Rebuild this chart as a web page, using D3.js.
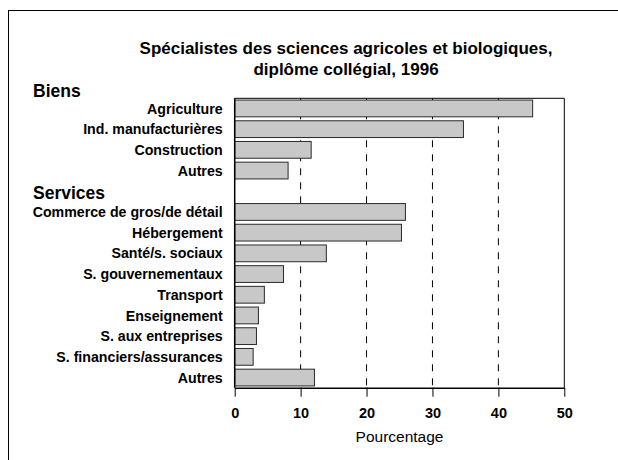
<!DOCTYPE html>
<html>
<head>
<meta charset="utf-8">
<script src="https://cdn.jsdelivr.net/npm/d3@7"></script>
<style>
  html, body { margin: 0; padding: 0; background: #fff; }
  svg { display: block; font-family: "Liberation Sans", Arial, Helvetica, sans-serif; }
</style>
</head>
<body>
<svg id="chart" width="618" height="460"></svg>
<script>
// ---- Data ----
const titleLines = ["Spécialistes des sciences agricoles et biologiques,", "diplôme collégial, 1996"];
const groupNames = ["Biens", "Services"];
const biensCategories = ["Agriculture", "Ind. manufacturières", "Construction", "Autres"];
const biensValues = [45.2, 34.7, 11.6, 8.1];
const servicesCategories = ["Commerce de gros/de détail", "Hébergement", "Santé/s. sociaux",
  "S. gouvernementaux", "Transport", "Enseignement", "S. aux entreprises",
  "S. financiers/assurances", "Autres"];
const servicesValues = [25.9, 25.3, 13.9, 7.4, 4.5, 3.6, 3.3, 2.8, 12.1];
const xTicks = [0, 10, 20, 30, 40, 50];
const xLabel = "Pourcentage";

// Build rows (with a blank slot for the "Services" heading)
const rows = [];
biensCategories.forEach((c, i) => rows.push({ key: "b" + i, label: c, value: biensValues[i] }));
rows.push({ key: "gap", label: "", value: null });
servicesCategories.forEach((c, i) => rows.push({ key: "s" + i, label: c, value: servicesValues[i] }));

const svg = d3.select("#chart");

// Outer frame (top and left visible)
svg.append("rect")
  .attr("x", 8.5).attr("y", 10.5)
  .attr("width", 700).attr("height", 600)
  .attr("fill", "none").attr("stroke", "#000").attr("stroke-width", 1);

const pL = 234.7, pR = 564.3, pT = 98.3, pB = 387.7;

const x = d3.scaleLinear().domain([0, 50]).range([pL, pR]);
const y = d3.scaleBand().domain(rows.map(d => d.key)).range([pT, pB])
  .paddingInner(0.19).paddingOuter(0.085);

// Title
svg.append("text")
  .attr("text-anchor", "middle")
  .attr("font-weight", "bold").attr("font-size", 17)
  .selectAll("tspan").data(titleLines).join("tspan")
  .attr("x", 346).attr("y", (d, i) => 54 + i * 21)
  .text(d => d);

// Gridlines (dashed) at interior ticks
svg.append("g").selectAll("line")
  .data(xTicks.filter(t => t > 0 && t < 50)).join("line")
  .attr("x1", d => x(d)).attr("x2", d => x(d))
  .attr("y1", pT).attr("y2", pB)
  .attr("stroke", "#000").attr("stroke-width", 1)
  .attr("stroke-dasharray", "7,7");

// Plot frame top & right
svg.append("line").attr("x1", pL).attr("x2", pR).attr("y1", pT).attr("y2", pT)
  .attr("stroke", "#000").attr("stroke-width", 1);
svg.append("line").attr("x1", pR).attr("x2", pR).attr("y1", pT).attr("y2", pB)
  .attr("stroke", "#000").attr("stroke-width", 1);

// Bars
svg.append("g").selectAll("rect")
  .data(rows.filter(d => d.value !== null)).join("rect")
  .attr("x", x(0))
  .attr("y", d => y(d.key))
  .attr("width", d => x(d.value) - x(0))
  .attr("height", y.bandwidth())
  .attr("fill", "#c8c8c8")
  .attr("stroke", "#2a2a2a").attr("stroke-width", 1);

// Left axis line
svg.append("line").attr("x1", pL).attr("x2", pL).attr("y1", pT).attr("y2", pB)
  .attr("stroke", "#000").attr("stroke-width", 1.5);

// Bottom axis
const xAxis = svg.append("g")
  .attr("transform", `translate(0,${pB})`)
  .call(d3.axisBottom(x).tickValues(xTicks).tickSize(9).tickSizeOuter(0).tickPadding(11));
xAxis.select(".domain").attr("stroke", "#000").attr("stroke-width", 1.5);
xAxis.selectAll(".tick line").attr("stroke", "#000").attr("stroke-width", 1);
xAxis.selectAll(".tick text")
  .attr("font-family", "Liberation Sans, Arial, sans-serif")
  .attr("font-size", 14.5).attr("font-weight", "bold").attr("fill", "#000");

// Axis label
svg.append("text")
  .attr("x", (pL + pR) / 2).attr("y", 441.5)
  .attr("text-anchor", "middle").attr("font-size", 15.5)
  .text(xLabel);

// Category labels
svg.append("g").selectAll("text")
  .data(rows.filter(d => d.label)).join("text")
  .attr("x", 222.7)
  .attr("y", d => y(d.key) + y.bandwidth() / 2)
  .attr("dy", "0.36em")
  .attr("text-anchor", "end")
  .attr("font-weight", "bold").attr("font-size", 14.2)
  .text(d => d.label);

// Group headings
svg.append("text").attr("x", 33).attr("y", 97)
  .attr("font-weight", "bold").attr("font-size", 17.5).text(groupNames[0]);
svg.append("text").attr("x", 33).attr("y", 199)
  .attr("font-weight", "bold").attr("font-size", 17.5).text(groupNames[1]);
</script>
</body>
</html>
